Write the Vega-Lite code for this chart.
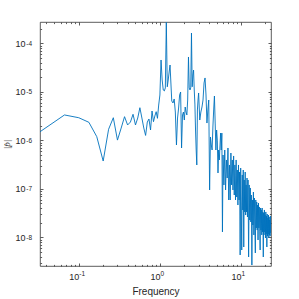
{
  "$schema": "https://vega.github.io/schema/vega-lite/v6.json",
  "width": 231,
  "height": 244,
  "autosize": "none",
  "padding": {"left": 40, "top": 22, "right": 28, "bottom": 33},
  "background": "white",
  "config": {
    "view": {"stroke": "#333333", "strokeWidth": 0.8},
    "axis": {
      "grid": false,
      "domain": false,
      "labelFont": "Liberation Sans",
      "titleFont": "Liberation Sans",
      "labelColor": "#262626",
      "titleColor": "#262626",
      "tickColor": "#333333",
      "tickWidth": 0.8,
      "labelFontSize": 9,
      "titleFontSize": 10,
      "titleFontWeight": "normal"
    }
  },
  "data": {
    "values": [
      {"f": 0.0333, "p": 1.50e-6}, {"f": 0.0667, "p": 3.33e-6}, {"f": 0.1, "p": 2.92e-6}, {"f": 0.1333, "p": 2.35e-6},
      {"f": 0.1667, "p": 1.19e-6}, {"f": 0.2, "p": 3.74e-7}, {"f": 0.2333, "p": 1.69e-6}, {"f": 0.2667, "p": 2.92e-6},
      {"f": 0.3, "p": 1.01e-6}, {"f": 0.3333, "p": 1.79e-6}, {"f": 0.3667, "p": 3.07e-6}, {"f": 0.4, "p": 2.07e-6},
      {"f": 0.4333, "p": 2.38e-6}, {"f": 0.4667, "p": 3.44e-6}, {"f": 0.5, "p": 2.07e-6}, {"f": 0.5333, "p": 2.88e-6},
      {"f": 0.5667, "p": 4.70e-6}, {"f": 0.6, "p": 2.88e-6}, {"f": 0.6333, "p": 1.79e-6}, {"f": 0.6667, "p": 1.26e-6},
      {"f": 0.7, "p": 2.38e-6}, {"f": 0.7333, "p": 2.75e-6}, {"f": 0.7667, "p": 1.63e-6}, {"f": 0.8, "p": 4.02e-6},
      {"f": 0.8333, "p": 2.42e-6}, {"f": 0.8667, "p": 3.17e-6}, {"f": 0.9, "p": 3.89e-6}, {"f": 0.9333, "p": 2.84e-6},
      {"f": 0.9667, "p": 5.34e-6}, {"f": 1.0, "p": 8.59e-6}, {"f": 1.0333, "p": 4.53e-5}, {"f": 1.0667, "p": 1.75e-5},
      {"f": 1.1, "p": 1.09e-5}, {"f": 1.1333, "p": 1.04e-5}, {"f": 1.1667, "p": 1.20e-5}, {"f": 1.2, "p": 2.7e-4},
      {"f": 1.2333, "p": 1.27e-5}, {"f": 1.2667, "p": 1.75e-5}, {"f": 1.3, "p": 2.56e-5}, {"f": 1.3333, "p": 3.57e-5},
      {"f": 1.4, "p": 6.46e-6}, {"f": 1.45, "p": 5.88e-6}, {"f": 1.5, "p": 7.11e-6}, {"f": 1.55, "p": 3.83e-6},
      {"f": 1.6, "p": 8.0e-7}, {"f": 1.65, "p": 2.88e-6}, {"f": 1.7, "p": 4.63e-6}, {"f": 1.75, "p": 8.59e-6},
      {"f": 1.8, "p": 9.91e-6}, {"f": 1.85, "p": 6.94e-7}, {"f": 1.9, "p": 3.33e-6}, {"f": 1.95, "p": 3.83e-6},
      {"f": 2.0, "p": 2.62e-6}, {"f": 2.05, "p": 4.86e-6}, {"f": 2.1, "p": 3.83e-6}, {"f": 2.15, "p": 3.33e-6},
      {"f": 2.2, "p": 6.77e-6}, {"f": 2.25, "p": 5.22e-5}, {"f": 2.3, "p": 1.20e-5}, {"f": 2.35, "p": 1.09e-5},
      {"f": 2.4, "p": 1.20e-5}, {"f": 2.45, "p": 1.63e-4}, {"f": 2.5, "p": 1.27e-5}, {"f": 2.55, "p": 2.22e-5},
      {"f": 2.6, "p": 2.8e-5}, {"f": 2.65, "p": 1.09e-5}, {"f": 2.7, "p": 5.60e-6}, {"f": 2.75, "p": 1.63e-6},
      {"f": 2.8, "p": 6.31e-7}, {"f": 2.85, "p": 3.10e-7}, {"f": 2.9, "p": 4.22e-6}, {"f": 2.95, "p": 6.77e-6},
      {"f": 3.0, "p": 9.45e-6}, {"f": 3.1, "p": 2.62e-6}, {"f": 3.2, "p": 3.83e-6}, {"f": 3.3, "p": 4.86e-6},
      {"f": 3.4, "p": 6.77e-6}, {"f": 3.5, "p": 1.52e-5}, {"f": 3.6, "p": 1.93e-5}, {"f": 3.7, "p": 8.59e-6},
      {"f": 3.8, "p": 2.27e-6}, {"f": 3.9, "p": 4.22e-6}, {"f": 4.0, "p": 6.77e-6}, {"f": 4.1, "p": 9.45e-8},
      {"f": 4.2, "p": 1.17e-6}, {"f": 4.3, "p": 8.0e-7}, {"f": 4.4, "p": 6.31e-7}, {"f": 4.5, "p": 1.88e-6},
      {"f": 4.6, "p": 4.22e-6}, {"f": 4.7, "p": 8.19e-6}, {"f": 4.8, "p": 2.27e-6}, {"f": 4.9, "p": 6.31e-7},
      {"f": 5.0, "p": 1.63e-6}, {"f": 5.1, "p": 1.01e-6}, {"f": 5.2, "p": 2.12e-7}, {"f": 5.3, "p": 6.31e-7},
      {"f": 5.4, "p": 3.93e-7}, {"f": 5.5, "p": 7.63e-7}, {"f": 5.6, "p": 1.41e-6}, {"f": 5.7, "p": 6.31e-7},
      {"f": 5.8, "p": 1.41e-6}, {"f": 5.9, "p": 1.29e-8}, {"f": 6.0, "p": 4.98e-7}, {"f": 6.15, "p": 1.20e-7},
      {"f": 6.3, "p": 6.31e-7}, {"f": 6.45, "p": 9.45e-8}, {"f": 6.6, "p": 3.93e-7}, {"f": 6.75, "p": 1.67e-7},
      {"f": 6.9, "p": 6.94e-7}, {"f": 7.05, "p": 5.88e-8}, {"f": 7.2, "p": 3.10e-7}, {"f": 7.35, "p": 5.88e-8},
      {"f": 7.5, "p": 5.47e-7}, {"f": 7.65, "p": 1.20e-7}, {"f": 7.8, "p": 3.93e-7}, {"f": 7.95, "p": 9.45e-8},
      {"f": 8.1, "p": 4.75e-7}, {"f": 8.25, "p": 7.45e-8}, {"f": 8.4, "p": 3.10e-7}, {"f": 8.55, "p": 5.88e-8},
      {"f": 8.7, "p": 3.93e-7}, {"f": 8.85, "p": 6.77e-8}, {"f": 9.0, "p": 2.44e-7}, {"f": 9.15, "p": 4.63e-8},
      {"f": 9.3, "p": 3.10e-7}, {"f": 9.45, "p": 5.88e-8}, {"f": 9.6, "p": 2.22e-7}, {"f": 9.75, "p": 4.32e-9},
      {"f": 9.9, "p": 2.68e-7}, {"f": 10.05, "p": 4.63e-8}, {"f": 10.2, "p": 5.47e-9}, {"f": 10.35, "p": 1.93e-7},
      {"f": 10.5, "p": 3.66e-8}, {"f": 10.65, "p": 2.44e-7}, {"f": 10.8, "p": 6.31e-9}, {"f": 10.95, "p": 1.52e-7},
      {"f": 11.1, "p": 3.33e-8}, {"f": 11.25, "p": 2.22e-7}, {"f": 11.4, "p": 2.88e-8}, {"f": 11.55, "p": 1.20e-7},
      {"f": 11.7, "p": 3.33e-8}, {"f": 11.85, "p": 1.67e-7}, {"f": 12.0, "p": 2.62e-8}, {"f": 12.2, "p": 1.52e-7},
      {"f": 12.4, "p": 3.93e-9}, {"f": 12.6, "p": 1.20e-7}, {"f": 12.8, "p": 2.27e-8}, {"f": 13.0, "p": 1.04e-7},
      {"f": 13.2, "p": 2.07e-8}, {"f": 13.4, "p": 7.45e-8}, {"f": 13.6, "p": 2.68e-9}, {"f": 13.8, "p": 5.88e-8},
      {"f": 14.0, "p": 1.79e-8}, {"f": 14.2, "p": 8.59e-8}, {"f": 14.4, "p": 1.12e-8}, {"f": 14.6, "p": 6.46e-8},
      {"f": 14.8, "p": 1.79e-8}, {"f": 15.0, "p": 4.75e-9}, {"f": 15.2, "p": 5.88e-8}, {"f": 15.4, "p": 1.56e-8},
      {"f": 15.6, "p": 5.34e-8}, {"f": 15.8, "p": 1.41e-8}, {"f": 16.0, "p": 4.63e-8}, {"f": 16.2, "p": 8.80e-9},
      {"f": 16.4, "p": 5.10e-8}, {"f": 16.6, "p": 1.56e-8}, {"f": 16.8, "p": 4.22e-8}, {"f": 17.0, "p": 1.29e-8},
      {"f": 17.2, "p": 5.47e-9}, {"f": 17.4, "p": 4.02e-8}, {"f": 17.6, "p": 1.41e-8}, {"f": 17.8, "p": 3.66e-8},
      {"f": 18.0, "p": 1.12e-8}, {"f": 18.2, "p": 4.02e-8}, {"f": 18.4, "p": 1.29e-8}, {"f": 18.6, "p": 3.33e-8},
      {"f": 18.8, "p": 3.93e-9}, {"f": 19.0, "p": 3.17e-8}, {"f": 19.2, "p": 1.12e-8}, {"f": 19.4, "p": 3.66e-8},
      {"f": 19.6, "p": 1.29e-8}, {"f": 19.8, "p": 2.88e-8}, {"f": 20.0, "p": 9.67e-9}, {"f": 20.2, "p": 3.33e-8},
      {"f": 20.4, "p": 1.17e-8}, {"f": 20.6, "p": 2.75e-8}, {"f": 20.8, "p": 6.31e-9}, {"f": 21.0, "p": 3.02e-8},
      {"f": 21.2, "p": 1.06e-8}, {"f": 21.4, "p": 2.50e-8}, {"f": 21.6, "p": 1.17e-8}, {"f": 21.8, "p": 2.88e-8},
      {"f": 22.0, "p": 9.67e-9}, {"f": 22.2, "p": 2.62e-8}, {"f": 22.4, "p": 1.12e-8}, {"f": 22.6, "p": 2.27e-8},
      {"f": 22.8, "p": 1.06e-8}, {"f": 23.0, "p": 2.75e-8}, {"f": 23.2, "p": 1.23e-8}, {"f": 23.4, "p": 2.07e-8}
    ]
  },
  "layer": [
    {
      "mark": {"type": "line", "color": "#0072BD", "strokeWidth": 0.9, "clip": true},
      "encoding": {
        "x": {
          "field": "f", "type": "quantitative",
          "scale": {"type": "log", "domain": [0.0333, 23.4], "nice": false},
          "axis": {
            "orient": "bottom", "values": [0.1, 1, 10], "tickSize": -3, "labelPadding": 9,
            "labelAlign": "right", "labelDx": 0.5, "labelExpr": "'10'",
            "title": "Frequency", "titlePadding": 5
          }
        },
        "y": {
          "field": "p", "type": "quantitative",
          "scale": {"type": "log", "domain": [2.56e-9, 2.75e-4], "nice": false},
          "axis": {
            "orient": "left", "values": [1e-8, 1e-7, 1e-6, 1e-5, 1e-4], "tickSize": -3, "labelPadding": 18,
            "labelExpr": "'10'",
            "title": "|p̂|", "titleFont": "Liberation Serif", "titleFontStyle": "italic", "titleFontSize": 9, "titlePadding": 3
          }
        }
      }
    },
    {
      "mark": {"type": "line", "opacity": 0},
      "encoding": {
        "x": {
          "field": "f", "type": "quantitative",
          "scale": {"type": "log", "domain": [0.0333, 23.4], "nice": false},
          "axis": {"orient": "bottom", "values": [0.1, 1, 10], "ticks": false, "tickSize": 0, "labelPadding": 4.5,
            "labelAlign": "left", "labelDx": 1, "labelFontSize": 6.5,
            "labelExpr": "datum.value < 0.5 ? '-1' : datum.value < 5 ? '0' : '1'", "title": null}
        },
        "y": {
          "field": "p", "type": "quantitative",
          "scale": {"type": "log", "domain": [2.56e-9, 2.75e-4], "nice": false},
          "axis": {"orient": "left", "values": [1e-8, 1e-7, 1e-6, 1e-5, 1e-4], "ticks": false, "tickSize": 0, "labelPadding": 8.5,
            "labelDy": -3.5, "labelFontSize": 6.5,
            "labelExpr": "datum.value < 5e-8 ? '-8' : datum.value < 5e-7 ? '-7' : datum.value < 5e-6 ? '-6' : datum.value < 5e-5 ? '-5' : '-4'", "title": null}
        }
      }
    },
    {
      "mark": {"type": "line", "opacity": 0},
      "encoding": {
        "x": {
          "field": "f", "type": "quantitative",
          "scale": {"type": "log", "domain": [0.0333, 23.4], "nice": false},
          "axis": {"orient": "bottom", "values": [0.04, 0.05, 0.06, 0.07, 0.08, 0.09, 0.2, 0.3, 0.4, 0.5, 0.6, 0.7, 0.8, 0.9, 2, 3, 4, 5, 6, 7, 8, 9, 20], "tickSize": -1.6, "labels": false, "title": null}
        },
        "y": {
          "field": "p", "type": "quantitative",
          "scale": {"type": "log", "domain": [2.56e-9, 2.75e-4], "nice": false},
          "axis": {"orient": "left", "values": [3e-9, 4e-9, 5e-9, 6e-9, 7e-9, 8e-9, 9e-9, 2e-8, 3e-8, 4e-8, 5e-8, 6e-8, 7e-8, 8e-8, 9e-8, 2e-7, 3e-7, 4e-7, 5e-7, 6e-7, 7e-7, 8e-7, 9e-7, 2e-6, 3e-6, 4e-6, 5e-6, 6e-6, 7e-6, 8e-6, 9e-6, 2e-5, 3e-5, 4e-5, 5e-5, 6e-5, 7e-5, 8e-5, 9e-5, 2e-4], "tickSize": -1.6, "labels": false, "title": null}
        }
      }
    },
    {
      "mark": {"type": "line", "opacity": 0},
      "encoding": {
        "x": {
          "field": "f", "type": "quantitative",
          "scale": {"type": "log", "domain": [0.0333, 23.4], "nice": false},
          "axis": {"orient": "top", "values": [0.1, 1, 10], "tickSize": -3, "labels": false, "title": null}
        },
        "y": {
          "field": "p", "type": "quantitative",
          "scale": {"type": "log", "domain": [2.56e-9, 2.75e-4], "nice": false},
          "axis": {"orient": "right", "values": [1e-8, 1e-7, 1e-6, 1e-5, 1e-4], "tickSize": -3, "labels": false, "title": null}
        }
      }
    },
    {
      "mark": {"type": "line", "opacity": 0},
      "encoding": {
        "x": {
          "field": "f", "type": "quantitative",
          "scale": {"type": "log", "domain": [0.0333, 23.4], "nice": false},
          "axis": {"orient": "top", "values": [0.04, 0.05, 0.06, 0.07, 0.08, 0.09, 0.2, 0.3, 0.4, 0.5, 0.6, 0.7, 0.8, 0.9, 2, 3, 4, 5, 6, 7, 8, 9, 20], "tickSize": -1.6, "labels": false, "title": null}
        },
        "y": {
          "field": "p", "type": "quantitative",
          "scale": {"type": "log", "domain": [2.56e-9, 2.75e-4], "nice": false},
          "axis": {"orient": "right", "values": [3e-9, 4e-9, 5e-9, 6e-9, 7e-9, 8e-9, 9e-9, 2e-8, 3e-8, 4e-8, 5e-8, 6e-8, 7e-8, 8e-8, 9e-8, 2e-7, 3e-7, 4e-7, 5e-7, 6e-7, 7e-7, 8e-7, 9e-7, 2e-6, 3e-6, 4e-6, 5e-6, 6e-6, 7e-6, 8e-6, 9e-6, 2e-5, 3e-5, 4e-5, 5e-5, 6e-5, 7e-5, 8e-5, 9e-5, 2e-4], "tickSize": -1.6, "labels": false, "title": null}
        }
      }
    }
  ],
  "resolve": {"axis": {"x": "independent", "y": "independent"}}
}
